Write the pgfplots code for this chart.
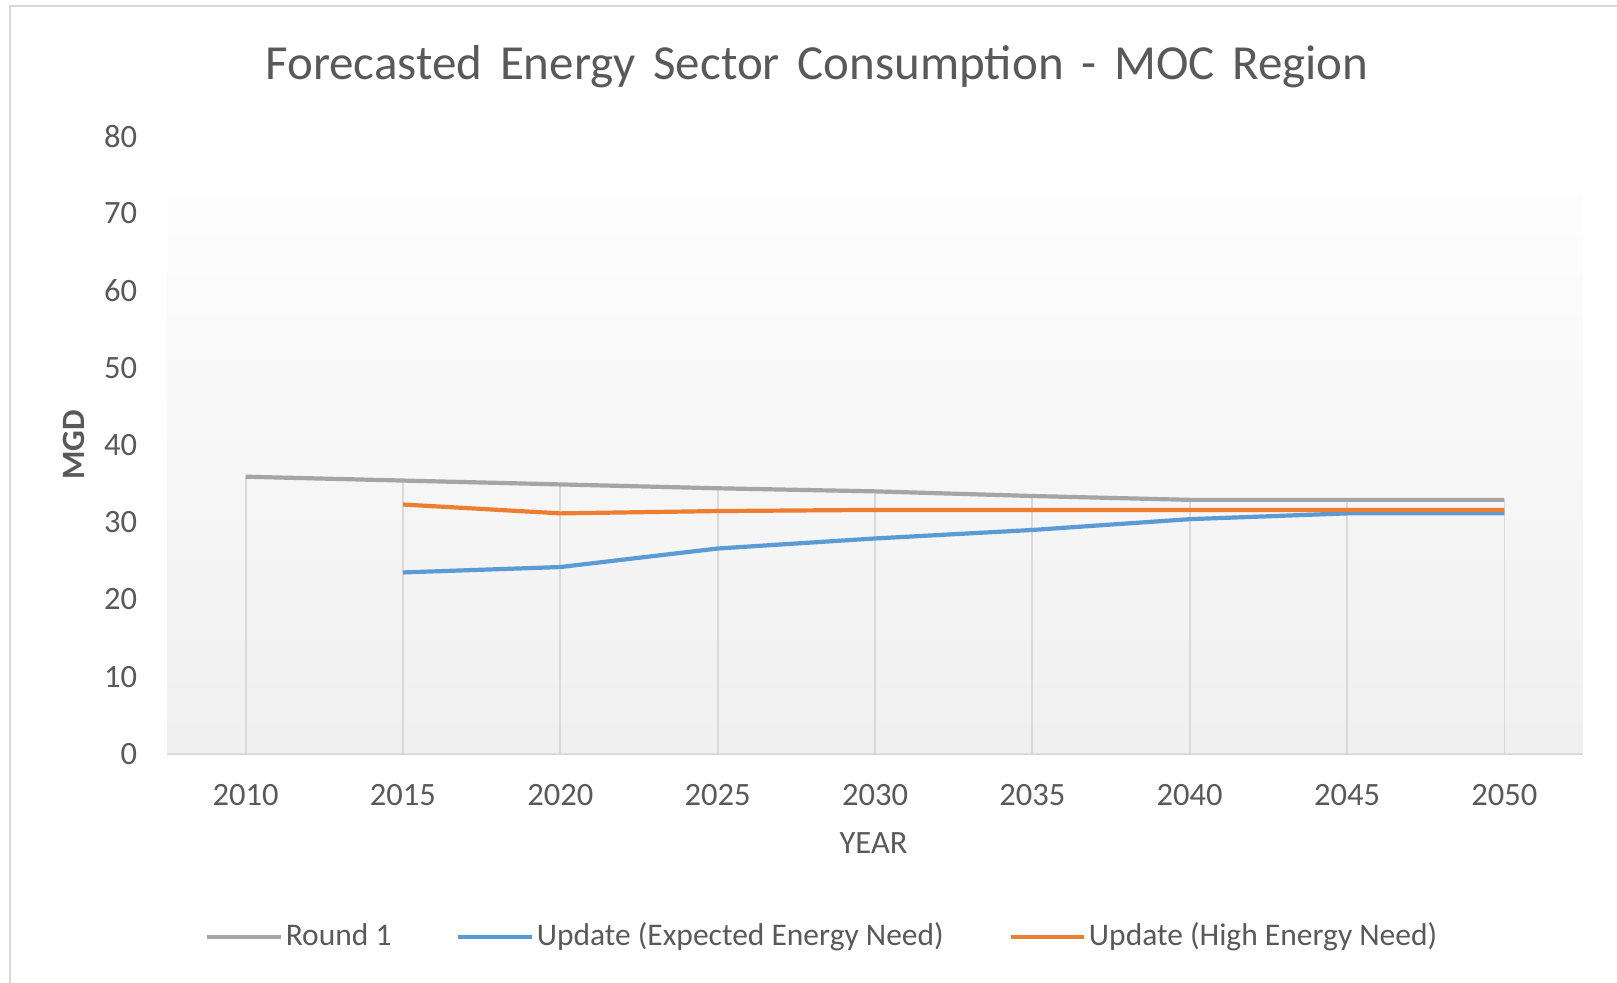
\documentclass[border=0pt]{standalone}
\usepackage{pgfplots}
\pgfplotsset{compat=1.18}
\usepackage{fontspec}
\setmainfont{Carlito}
\newfontfamily\titlefont[WordSpace=1.6]{Carlito}
\definecolor{txt}{HTML}{595959}
\definecolor{cgray}{HTML}{A5A5A5}
\definecolor{cblue}{HTML}{5B9BD5}
\definecolor{corange}{HTML}{ED7D31}
\definecolor{cgrid}{HTML}{D9D9D9}
\definecolor{cframe}{HTML}{D9D9D9}
\begin{document}
\begin{tikzpicture}
\useasboundingbox (-47.7pt,-65.2pt) rectangle (414.3pt,215.4pt);
\draw[cframe, line width=0.6pt] (-44.8pt,-66pt) -- (-44.8pt,213.7pt) -- (416pt,213.7pt);
\begin{axis}[
  scale only axis,
  width=404.6pt, height=176.5pt,
  xmin=2007.5, xmax=2052.5,
  ymin=0, ymax=80,
  xtick={2010,2015,...,2050},
  ytick={0,10,...,80},
  /pgf/number format/1000 sep={},
  /pgf/number format/assume math mode=true,
  axis background/.style={shade, top color=white, bottom color=black!6},
  axis line style={draw=none},
  major tick length=0pt,
  tick style={draw=none},
  ticklabel style={font=\fontsize{9.3}{11}\selectfont, text=txt},
  xticklabel style={anchor=center, yshift=-11.8pt},
  yticklabel style={anchor=east, xshift=-5pt},
  title={Forecasted Energy Sector Consumption - MOC Region},
  title style={at={(axis description cs:0.459,1.079)}, anchor=center, font=\titlefont\fontsize{14}{17}\selectfont, text=txt},
  xlabel={YEAR},
  xlabel style={at={(axis description cs:0.499,-0.145)}, anchor=center, font=\fontsize{9.3}{11}\selectfont, text=txt},
  ylabel={MGD},
  ylabel style={at={(axis description cs:-0.0655,0.5)}, anchor=center, rotate=0, font=\fontsize{9.3}{11}\selectfont\bfseries, text=txt},
  legend columns=3,
  legend style={at={(axis description cs:0.463,-0.296)}, anchor=center, draw=none, fill=none,
    font=\fontsize{9}{11}\selectfont, text=txt,
    /tikz/every even column/.append style={column sep=17.7pt},
    nodes={inner sep=0.8pt}},
  legend image code/.code={\draw[#1] (0pt,0pt) -- (21pt,0pt);},
  clip=false,
]
\draw[cgrid, line width=0.6pt] (axis cs:2007.5,0) -- (axis cs:2052.5,0);
\addplot[ycomb, cgrid, line width=0.5pt, forget plot] table {
x y
2010 35.9
2015 35.4
2020 34.9
2025 34.4
2030 34.0
2035 33.4
2040 32.9
2045 32.9
2050 32.9
};
\addplot[cgray, line width=1.2pt] table {
x y
2010 35.9
2015 35.4
2020 34.9
2025 34.4
2030 34.0
2035 33.4
2040 32.9
2045 32.9
2050 32.9
};
\addlegendentry{Round 1}
\addplot[cblue, line width=1.2pt] table {
x y
2015 23.5
2020 24.2
2025 26.6
2030 27.9
2035 29.0
2040 30.4
2045 31.15
2050 31.15
};
\addlegendentry{Update (Expected Energy Need)}
\addplot[corange, line width=1.2pt] table {
x y
2015 32.3
2020 31.15
2025 31.45
2030 31.6
2035 31.6
2040 31.6
2045 31.6
2050 31.6
};
\addlegendentry{Update (High Energy Need)}
\end{axis}
\end{tikzpicture}
\end{document}
